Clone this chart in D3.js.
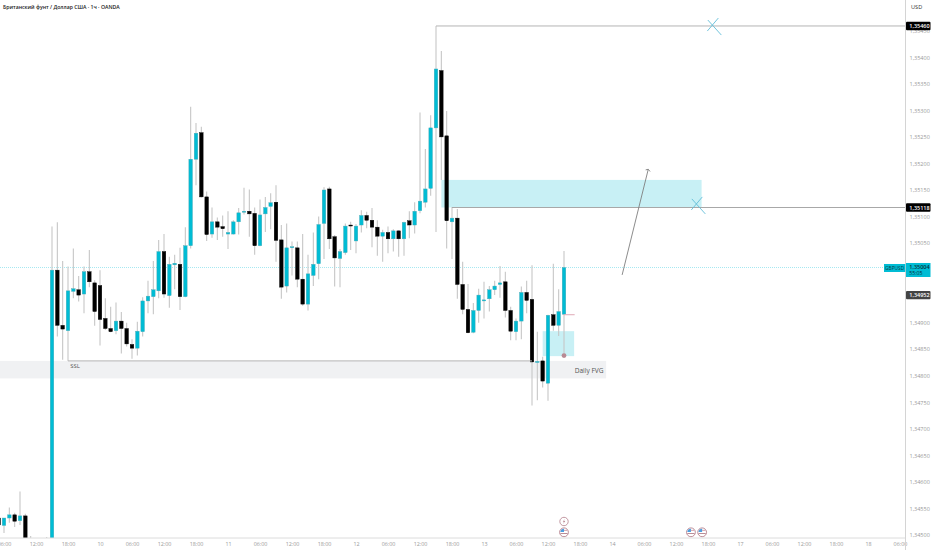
<!DOCTYPE html>
<html><head><meta charset="utf-8">
<script src="https://cdn.jsdelivr.net/npm/d3@7"></script>
<style>html,body{margin:0;padding:0;background:#fff}svg{display:block;font-family:"Open Sans",sans-serif}</style>
</head><body><svg id="c" width="932" height="550"></svg>
<script>
// Prices in units of 0.00001 USD, one candle per hour
const open=[134532,134518,134532,134538,134527,134536,134490,134480,134480,134490,134480,134999,134895,134885,134959,134962,134954,134996,134975,134970,134908,134889,134885,134903,134889,134859,134852,134883,134941,134949,134960,135034,134951,135009,135010,134949,135045,135208,135258,135137,135067,135090,135081,135067,135067,135090,135110,135110,135106,135045,135105,135119,135127,135056,134969,135043,135041,134982,134935,134989,135011,135087,135152,135062,135021,135032,135084,135054,135084,135102,135093,135080,135063,135070,135058,135073,135058,135092,135084,135111,135127,135153,135267,135375,135252,135090,135097,134972,134925,134882,134923,134941,134945,134962,134972,134977,134923,134883,134903,134957,134944,134825,134828,134786,134915,134895,134916];
const high=[134547,134532,134552,134542,134582,134540,134498,134485,134485,134496,135081,135089,135016,135006,135040,134988,135006,135037,134980,134999,134946,134930,134938,134920,134900,134869,134902,134948,134979,135016,135056,135067,135024,135028,135041,135080,135307,135276,135269,135147,135117,135098,135102,135110,135093,135116,135154,135151,135117,135132,135137,135144,135159,135084,135087,135053,135053,135067,135028,135070,135100,135155,135156,135065,135039,135087,135090,135086,135112,135109,135116,135093,135075,135081,135076,135074,135090,135110,135127,135296,135227,135291,135459,135412,135299,135118,135114,135015,134973,134937,134964,134977,134969,134979,135007,134996,134930,134908,134968,134979,135008,134883,134836,134915,135011,134963,135035];
const low=[134510,134504,134523,134515,134519,134490,134480,134470,134470,134480,134470,134874,134830,134828,134946,134940,134918,134967,134894,134857,134886,134882,134878,134842,134855,134832,134838,134874,134918,134916,134946,134947,134928,134963,134924,134948,135040,135159,135136,135054,135060,135056,135062,135039,135066,135066,135104,135062,135028,135044,135071,135076,135015,134945,134957,134989,134967,134932,134923,134969,134982,135020,135039,134968,134967,135028,135037,135031,135070,135078,135042,135026,135015,135031,135034,135024,135026,135059,135068,135106,135117,135139,135071,135169,135040,135020,134945,134916,134880,134880,134900,134908,134921,134952,134947,134910,134867,134867,134869,134918,134744,134754,134778,134753,134885,134875,134838];
const close=[134519,134532,134538,134526,134536,134494,134489,134479,134479,134489,134999,134895,134888,134960,134964,134952,134996,134977,134921,134906,134889,134883,134903,134889,134860,134852,134884,134941,134950,134962,135034,134954,135010,135012,134949,135045,135208,135257,135137,135066,135090,135080,135077,135070,135090,135107,135110,135105,135045,135103,135117,135126,135055,134967,135041,135043,134982,134935,134992,135010,135085,135150,135058,135022,135034,135082,135083,135082,135102,135093,135080,135063,135070,135058,135073,135058,135089,135084,135110,135129,135152,135267,135378,135250,135092,135097,134972,134925,134881,134923,134952,134943,134962,134969,134975,134923,134884,134903,134957,134942,134826,134827,134790,134914,134895,134921,135004];

const xTickLabels=["06:00","12:00","18:00","10","06:00","12:00","18:00","11","06:00","12:00","18:00","12","06:00","12:00","18:00","13","06:00","12:00","18:00","14","06:00","12:00","18:00","17","06:00","12:00","18:00","18","06:00"];
const yTicks=[134500,134550,134600,134650,134700,134750,134800,134850,134900,135050,135100,135150,135200,135250,135300,135350,135400,135450];

// Drawing tools: hour index / price anchors
const zones=[
  {h0:0,h1:113.9,p0:134828,p1:134795,color:"#f0f1f3"},
  {h0:83,h1:131.8,p0:135169,p1:135117,color:"#c8f0f5"},
  {h0:102,h1:107.9,p0:134884,p1:134837,color:"#c8f0f5"}
];
const hLines=[
  {h0:82,h1:170,p:135459,color:"#b4b4b4",w:1},
  {h0:85,h1:170,p:135117,color:"#a8a8a8",w:1},
  {h0:13,h1:100,p:134828,color:"#b4b4b4",w:1},
  {h0:106,h1:108,p:134915,color:"#dfa9b6",w:1}
];
const crosses=[{h:134,p:135457},{h:131,p:135120}];
const arrow={h0:116.9,p0:134990,h1:121.8,p1:135189};
const notes=[{h:13.4,p:134814,text:"SSL",size:6},{h:108,p:134806,text:"Daily FVG",size:6.6}];
const priceTags=[
  {p:135459,text:"1,35460",fill:"#000",color:"#fff",h:8.4},
  {p:135117,text:"1,35118",fill:"#000",color:"#fff",h:8.4},
  {p:134952,text:"1,34952",fill:"#444",color:"#fff",h:8.4}
];
const lastPrice=135004, lastTimer="55:05", symbol="GBPUSD";
const eventFlash=[106], eventFlags=[106,129.8,131.9];
const dot={h:106,p:134838};

const W=932,H=550,paneR=905.33,paneB=538;
const x=d3.scaleLinear().domain([0,170]).range([-1.33,paneR]);
const y=d3.scaleLinear().domain([134500,135400]).range([535,57.3]);
const svg=d3.select("#c");
svg.append("defs").append("clipPath").attr("id","pane").append("rect").attr("width",paneR).attr("height",paneB);
const pane=svg.append("g").attr("clip-path","url(#pane)");

pane.selectAll(".z").data(zones).join("rect")
 .attr("x",d=>x(d.h0)).attr("width",d=>x(d.h1)-x(d.h0))
 .attr("y",d=>y(d.p0)).attr("height",d=>y(d.p1)-y(d.p0)).attr("fill",d=>d.color);

// current price dotted line (behind candles)
pane.append("line").attr("x1",0).attr("x2",paneR).attr("y1",y(lastPrice)).attr("y2",y(lastPrice))
 .attr("stroke","#a6e8f1").attr("stroke-width",1).attr("stroke-dasharray","1 1");

const idx=d3.range(open.length);
pane.selectAll(".w").data(idx).join("line")
 .attr("x1",i=>x(i)).attr("x2",i=>x(i)).attr("y1",i=>y(high[i])).attr("y2",i=>y(low[i]))
 .attr("stroke","#c6c6c6").attr("stroke-width",1.1);
pane.selectAll(".b").data(idx).join("rect")
 .attr("x",i=>x(i)-1.8).attr("width",3.6)
 .attr("y",i=>y(Math.max(open[i],close[i])))
 .attr("height",i=>Math.max(1,Math.abs(y(open[i])-y(close[i]))))
 .attr("fill",i=>close[i]>=open[i]?"#00bcd4":"#000")
 .attr("stroke",i=>close[i]>=open[i]?"#4fa9b5":"#000").attr("stroke-width",.4);

pane.selectAll(".h").data(hLines).join("line")
 .attr("x1",d=>x(d.h0)).attr("x2",d=>x(d.h1)).attr("y1",d=>y(d.p)).attr("y2",d=>y(d.p))
 .attr("stroke",d=>d.color).attr("stroke-width",d=>d.w);

// crosses
crosses.forEach(c=>{
  const g=pane.append("g").attr("transform",`translate(${x(c.h)},${y(c.p)})`).attr("stroke","#62bdd8").attr("stroke-width",.9);
  g.append("line").attr("x1",-5.5).attr("y1",-7).attr("x2",8).attr("y2",8);
  g.append("line").attr("x1",-6).attr("y1",4).attr("x2",5).attr("y2",-9);
});

// arrow
const ax0=x(arrow.h0),ay0=y(arrow.p0),ax1=x(arrow.h1),ay1=y(arrow.p1);
pane.append("line").attr("x1",ax0).attr("y1",ay0).attr("x2",ax1).attr("y2",ay1).attr("stroke","#7f7f7f").attr("stroke-width",.9);
pane.append("path").attr("d",`M${ax1-2.6},${ay1+.6}L${ax1},${ay1}L${ax1+1.8},${ay1+2.2}`).attr("fill","none").attr("stroke","#7f7f7f").attr("stroke-width",.9);

// dot
pane.append("circle").attr("cx",x(dot.h)).attr("cy",y(dot.p)).attr("r",2.4).attr("fill","#b98a94");

// notes
pane.selectAll(".n").data(notes).join("text")
 .attr("x",d=>x(d.h)).attr("y",d=>y(d.p)).attr("font-size",d=>d.size).attr("fill","#555").text(d=>d.text);

// events
const eventG=svg.append("g");
eventFlash.forEach(h=>{
  const g=eventG.append("g").attr("transform",`translate(${x(h)},521.5)`);
  g.append("circle").attr("r",4.2).attr("fill","#fff").attr("stroke","#b4808c").attr("stroke-width",.8);
  g.append("path").attr("d","M.8,-2.6L-1.2,.3L0,.3L-.8,2.6L1.2,-.4L0,-.4Z").attr("fill","#b4808c");
});
eventFlags.forEach(h=>{
  const g=eventG.append("g").attr("transform",`translate(${x(h)},532.3)`);
  g.append("circle").attr("r",4.4).attr("fill","#fff").attr("stroke","#b4808c").attr("stroke-width",.9);
  g.append("path").attr("d","M-3.6,-.4A3.6,3.6 0 0 1 0,-3.6L0,-.4Z").attr("fill","#4f9fe0");
  g.append("rect").attr("x",0).attr("y",-2.4).attr("width",3.4).attr("height",.8).attr("fill","#c98f9b");
  g.append("rect").attr("x",-3.6).attr("y",.7).attr("width",7.2).attr("height",.9).attr("fill","#b4808c");
});

// axes
const xAxis=d3.axisBottom(x).tickValues(xTickLabels.map((_,i)=>1+i*6)).tickFormat((_,i)=>xTickLabels[i]).tickSize(0).tickPadding(0);
const gx=svg.append("g").attr("transform",`translate(0,${paneB})`).call(xAxis);
gx.select(".domain").remove();
gx.selectAll("text").attr("font-size",5.4).attr("fill","#999").attr("font-family",'"Open Sans",sans-serif').attr("dy",null).attr("y",8);
const yAxis=d3.axisRight(y).tickValues(yTicks).tickFormat(d=>d3.format(".5f")(d/1e5).replace(".",",")).tickSize(0).tickPadding(0);
const gy=svg.append("g").attr("transform",`translate(909.5,0)`).call(yAxis);
gy.select(".domain").remove();
gy.selectAll("text").attr("font-size",5.5).attr("fill","#999").attr("font-family",'"Open Sans",sans-serif');
svg.append("line").attr("x1",0).attr("x2",paneR).attr("y1",paneB).attr("y2",paneB).attr("stroke","#dcdcdc").attr("stroke-width",1);
svg.append("line").attr("x1",paneR+.2).attr("x2",paneR+.2).attr("y1",0).attr("y2",H).attr("stroke","#d4d4d4").attr("stroke-width",1);

// price tags
priceTags.forEach(t=>{
  svg.append("rect").attr("x",906).attr("y",y(t.p)-t.h/2).attr("width",24.5).attr("height",t.h).attr("rx",1).attr("fill",t.fill);
  svg.append("text").attr("x",909.3).attr("y",y(t.p)+2).attr("font-size",5.5).attr("font-weight",600).attr("fill",t.color).text(t.text);
});
const ly=y(lastPrice);
svg.append("rect").attr("x",884).attr("y",ly-3.5).attr("width",21.3).attr("height",8).attr("fill","#00bcd4");
svg.append("text").attr("x",894.6).attr("y",ly+2.4).attr("text-anchor","middle").attr("font-size",4.8).attr("fill","#0a3a44").text(symbol);
svg.append("rect").attr("x",906).attr("y",ly-4.5).attr("width",24.5).attr("height",14).attr("fill","#00bcd4");
svg.append("text").attr("x",909.3).attr("y",ly+1.2).attr("font-size",5.5).attr("font-weight",600).attr("fill","#06303a").text(d3.format(".5f")(lastPrice/1e5).replace(".",","));
svg.append("text").attr("x",909.3).attr("y",ly+7.8).attr("font-size",5.2).attr("fill","#06303a").text(lastTimer);

// header
svg.append("text").attr("x",3).attr("y",8.8).attr("font-size",5.2).attr("font-weight",600).attr("fill","#222").text("Британский фунт / Доллар США · 1ч · OANDA");
svg.append("rect").attr("x",907).attr("y",1.5).attr("width",23).attr("height",10).attr("rx",2).attr("fill","#fff");
svg.append("text").attr("x",911).attr("y",9.2).attr("font-size",5.6).attr("fill","#333").text("USD");
</script></body></html>
